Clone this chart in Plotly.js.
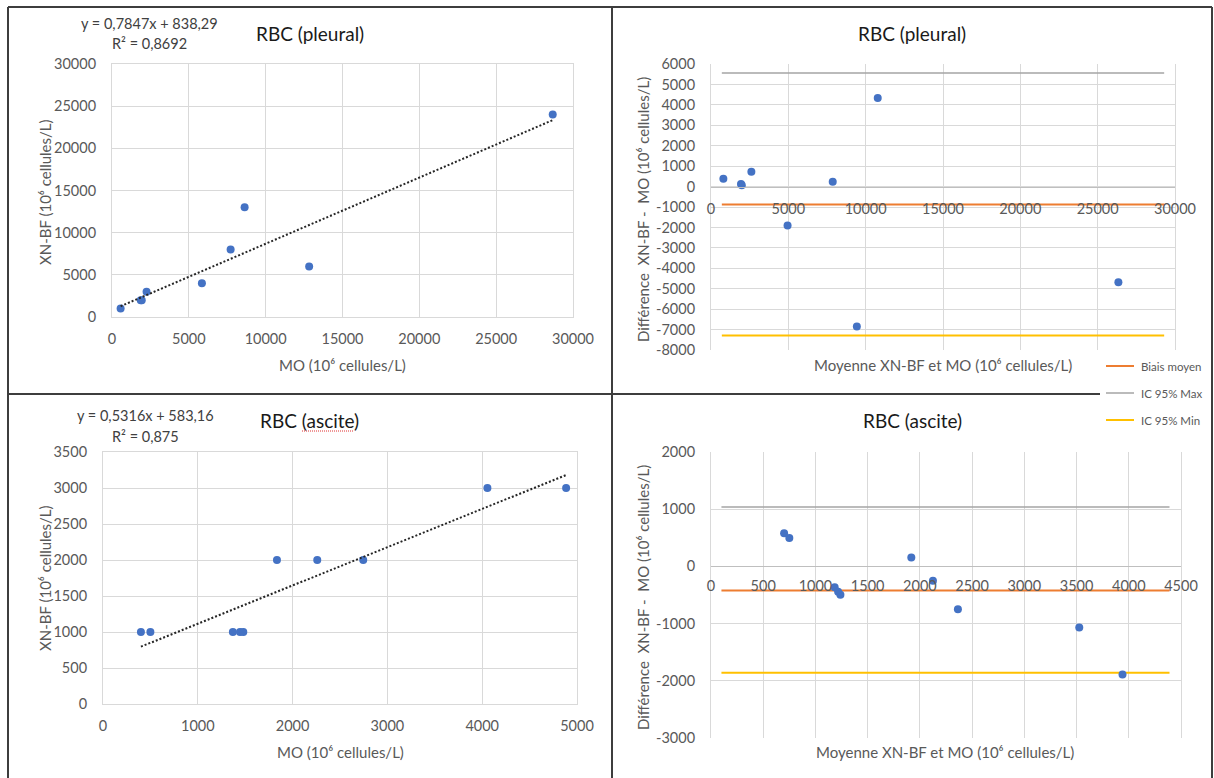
<!DOCTYPE html>
<html><head><meta charset="utf-8">
<script src="https://cdn.plot.ly/plotly-3.0.1.min.js"></script>
<style>html,body{margin:0;padding:0;background:#fff}#chart{width:1214px;height:778px}</style>
</head><body><div id="chart"></div>
<script>
// ---------- data ----------
// Pleural: regression XN-BF vs MO
const pleuralMO   = [560, 1870, 1935, 2250, 5850, 7720, 8630, 12830, 28680];
const pleuralXNBF = [1000, 2000, 2000, 3000, 4000, 8000, 13000, 6000, 24000];
const pleuralTrendX = [560, 28680];
const pleuralTrendY = [1278, 23344];
// Pleural: Bland-Altman
const pleuralMean = [800, 1940, 1990, 2610, 4950, 7870, 9430, 10780, 26340];
const pleuralDiff = [380, 130, 65, 720, -1910, 230, -6850, 4340, -4680];
const pleuralLineX = [700, 29300];
const pleuralBias = -880;
const pleuralIcMax = 5560;
const pleuralIcMin = -7290;
// Ascite: regression
const asciteMO   = [400, 500, 1370, 1445, 1480, 1835, 2260, 2745, 4055, 4885];
const asciteXNBF = [1000, 1000, 1000, 1000, 1000, 2000, 2000, 2000, 3000, 3000];
const asciteTrendX = [400, 4885];
const asciteTrendY = [796, 3180];
// Ascite: Bland-Altman
const asciteMean = [700, 750, 1184, 1217, 1239, 1918, 2125, 2364, 3526, 3940];
const asciteDiff = [580, 495, -366, -442, -494, 157, -250, -750, -1070, -1890];
const asciteLineX = [100, 4390];
const asciteBias = -420;
const asciteIcMax = 1040;
const asciteIcMin = -1860;

// tick labels
const ticksPleuralReg = [0, 5000, 10000, 15000, 20000, 25000, 30000];
const ticksPleuralRegText = ['0', '5000', '10000', '15000', '20000', '25000', '30000'];
const ticksPleuralDiff = [-8000, -7000, -6000, -5000, -4000, -3000, -2000, -1000, 0, 1000, 2000, 3000, 4000, 5000, 6000];
const ticksPleuralDiffText = ['-8000', '-7000', '-6000', '-5000', '-4000', '-3000', '-2000', '-1000', '0', '1000', '2000', '3000', '4000', '5000', '6000'];
const ticksAsciteX = [0, 1000, 2000, 3000, 4000, 5000];
const ticksAsciteXText = ['0', '1000', '2000', '3000', '4000', '5000'];
const ticksAsciteY = [0, 500, 1000, 1500, 2000, 2500, 3000, 3500];
const ticksAsciteYText = ['0', '500', '1000', '1500', '2000', '2500', '3000', '3500'];
const ticksAsciteMean = [0, 500, 1000, 1500, 2000, 2500, 3000, 3500, 4000, 4500];
const ticksAsciteMeanText = ['0', '500', '1000', '1500', '2000', '2500', '3000', '3500', '4000', '4500'];
const ticksAsciteDiff = [-3000, -2000, -1000, 0, 1000, 2000];
const ticksAsciteDiffText = ['-3000', '-2000', '-1000', '0', '1000', '2000'];

// ---------- styling ----------
const W = 1214, H = 778;
const X = v => v / W;
const Y = v => 1 - v / H;
const FONT = "Lato, 'Open Sans', sans-serif";
const BLUE = '#4472C4', ORANGE = '#ED7D31', GREY = '#A5A5A5', GOLD = '#FFC000';
const GRID = '#d9d9d9';
const tickFont = {family: FONT, size: 14.5, color: '#595959'};

function axis(domain, tv, tt, range, extra) {
  return Object.assign({
    domain: domain, range: range, autorange: false,
    tickmode: 'array', tickvals: tv, ticktext: tt,
    tickfont: tickFont, gridcolor: GRID, gridwidth: 1,
    showline: true, linecolor: GRID, linewidth: 1, mirror: true,
    zeroline: false, ticks: '', fixedrange: true
  }, extra || {});
}

const mk = {color: BLUE, size: 8};
const traces = [
  {x: pleuralMO, y: pleuralXNBF, xaxis: 'x', yaxis: 'y', mode: 'markers', type: 'scatter', marker: mk, name: 'Pleural'},
  {x: pleuralTrendX, y: pleuralTrendY, xaxis: 'x', yaxis: 'y', mode: 'lines', type: 'scatter',
   line: {color: '#262626', width: 2, dash: '2px,2px'}, name: 'Linéaire'},

  {x: pleuralLineX, y: [pleuralBias, pleuralBias], xaxis: 'x2', yaxis: 'y2', mode: 'lines', line: {color: ORANGE, width: 2}, name: 'Biais moyen'},
  {x: pleuralLineX, y: [pleuralIcMax, pleuralIcMax], xaxis: 'x2', yaxis: 'y2', mode: 'lines', line: {color: GREY, width: 1.5}, name: 'IC 95% Max'},
  {x: pleuralLineX, y: [pleuralIcMin, pleuralIcMin], xaxis: 'x2', yaxis: 'y2', mode: 'lines', line: {color: GOLD, width: 2}, name: 'IC 95% Min'},
  {x: pleuralMean, y: pleuralDiff, xaxis: 'x2', yaxis: 'y2', mode: 'markers', type: 'scatter', marker: mk, name: 'Diff pleural'},

  {x: asciteMO, y: asciteXNBF, xaxis: 'x3', yaxis: 'y3', mode: 'markers', type: 'scatter', marker: mk, name: 'Ascite'},
  {x: asciteTrendX, y: asciteTrendY, xaxis: 'x3', yaxis: 'y3', mode: 'lines', type: 'scatter',
   line: {color: '#262626', width: 2, dash: '2px,2px'}, name: 'Linéaire'},

  {x: asciteLineX, y: [asciteBias, asciteBias], xaxis: 'x4', yaxis: 'y4', mode: 'lines', line: {color: ORANGE, width: 2}, name: 'Biais moyen'},
  {x: asciteLineX, y: [asciteIcMax, asciteIcMax], xaxis: 'x4', yaxis: 'y4', mode: 'lines', line: {color: GREY, width: 1.5}, name: 'IC 95% Max'},
  {x: asciteLineX, y: [asciteIcMin, asciteIcMin], xaxis: 'x4', yaxis: 'y4', mode: 'lines', line: {color: GOLD, width: 2}, name: 'IC 95% Min'},
  {x: asciteMean, y: asciteDiff, xaxis: 'x4', yaxis: 'y4', mode: 'markers', type: 'scatter', marker: mk, name: 'Diff ascite'}
];

const frame = '#3d3d3d';
function pline(x0, y0, x1, y1, color, width, dash) {
  return {type: 'line', xref: 'paper', yref: 'paper', x0: X(x0), y0: Y(y0), x1: X(x1), y1: Y(y1),
          line: {color: color, width: width, dash: dash || 'solid'}, layer: 'above'};
}
const shapes = [
  pline(8, 7, 1212, 7, frame, 2),
  pline(8, 7, 8, 778, frame, 2),
  pline(1212, 7, 1212, 778, frame, 2),
  pline(612, 7, 612, 778, frame, 2),
  pline(8, 394, 1100, 394, frame, 2),
  // legend keys
  pline(1106, 366, 1134, 366, ORANGE, 2),
  pline(1106, 393, 1134, 393, GREY, 1.5),
  pline(1106, 420, 1134, 420, GOLD, 2),
  // spell-check underline
  pline(302, 431, 353, 431, '#e03030', 1, '1px,1px')
];

function ann(text, x, y, size, color, opts) {
  return Object.assign({text: text, xref: 'paper', yref: 'paper', x: X(x), y: Y(y),
    xanchor: 'center', yanchor: 'middle', showarrow: false,
    font: {family: FONT, size: size, color: color}}, opts || {});
}
const titleC = '#1a1a1a', axC = '#595959';
const unit = '(10\u2076 cellules/L)';
const diffTitle = 'Différence\u00a0 XN-BF -\u00a0 MO ' + unit;
const annotations = [
  ann('RBC (pleural)', 310, 33, 19, titleC),
  ann('RBC (pleural)', 912, 33, 19, titleC),
  ann('RBC (ascite)', 309, 421, 19, titleC),
  ann('RBC (ascite)', 912, 420, 19, titleC),
  ann('y = 0,7847x + 838,29', 149, 23, 14.5, '#404040'),
  ann('R² = 0,8692', 149, 43, 14.5, '#404040'),
  ann('y = 0,5316x + 583,16', 145, 416, 14.5, '#404040'),
  ann('R² = 0,875', 145, 436, 14.5, '#404040'),
  ann('XN-BF ' + unit, 45, 192, 15, axC, {textangle: -90}),
  ann('MO ' + unit, 342, 365, 15, axC),
  ann(diffTitle, 643, 210, 15, axC, {textangle: -90}),
  ann('Moyenne XN-BF et MO ' + unit, 943, 365, 15, axC),
  ann('XN-BF ' + unit, 45, 578, 15, axC, {textangle: -90}),
  ann('MO ' + unit, 340, 752, 15, axC),
  ann(diffTitle, 643, 598, 15, axC, {textangle: -90}),
  ann('Moyenne XN-BF et MO ' + unit, 945, 752, 15, axC),
  ann('Biais moyen', 1139, 366, 11.5, axC, {xanchor: 'left'}),
  ann('IC 95% Max', 1139, 393, 11.5, axC, {xanchor: 'left'}),
  ann('IC 95% Min', 1139, 420, 11.5, axC, {xanchor: 'left'})
];

const layout = {
  width: W, height: H, margin: {l: 0, r: 0, t: 0, b: 0},
  paper_bgcolor: '#ffffff', plot_bgcolor: '#ffffff', showlegend: false,
  font: {family: FONT},
  xaxis: axis([X(112), X(573)], ticksPleuralReg, ticksPleuralRegText, [0, 30000], {anchor: 'y', ticklabelstandoff: 9}),
  yaxis: axis([Y(317), Y(64)], ticksPleuralReg, ticksPleuralRegText, [0, 30000], {anchor: 'x', ticklabelstandoff: 12}),
  xaxis2: axis([X(711), X(1175)], ticksPleuralReg, ticksPleuralRegText, [0, 30000],
    {anchor: 'free', position: Y(187), mirror: false, linecolor: '#bfbfbf', ticklabelstandoff: 9}),
  yaxis2: axis([Y(350), Y(64)], ticksPleuralDiff, ticksPleuralDiffText, [-8000, 6000], {anchor: 'x2', ticklabelstandoff: 12}),
  xaxis3: axis([X(103), X(577)], ticksAsciteX, ticksAsciteXText, [0, 5000], {anchor: 'y3', ticklabelstandoff: 9}),
  yaxis3: axis([Y(704), Y(452)], ticksAsciteY, ticksAsciteYText, [0, 3500], {anchor: 'x3', ticklabelstandoff: 12}),
  xaxis4: axis([X(711), X(1181)], ticksAsciteMean, ticksAsciteMeanText, [0, 4500],
    {anchor: 'free', position: Y(566), mirror: false, linecolor: '#bfbfbf', ticklabelstandoff: 7}),
  yaxis4: axis([Y(738), Y(452)], ticksAsciteDiff, ticksAsciteDiffText, [-3000, 2000], {anchor: 'x4', ticklabelstandoff: 12}),
  shapes: shapes,
  annotations: annotations
};

Plotly.newPlot('chart', traces, layout, {displayModeBar: false, staticPlot: true});
</script>
</body></html>
